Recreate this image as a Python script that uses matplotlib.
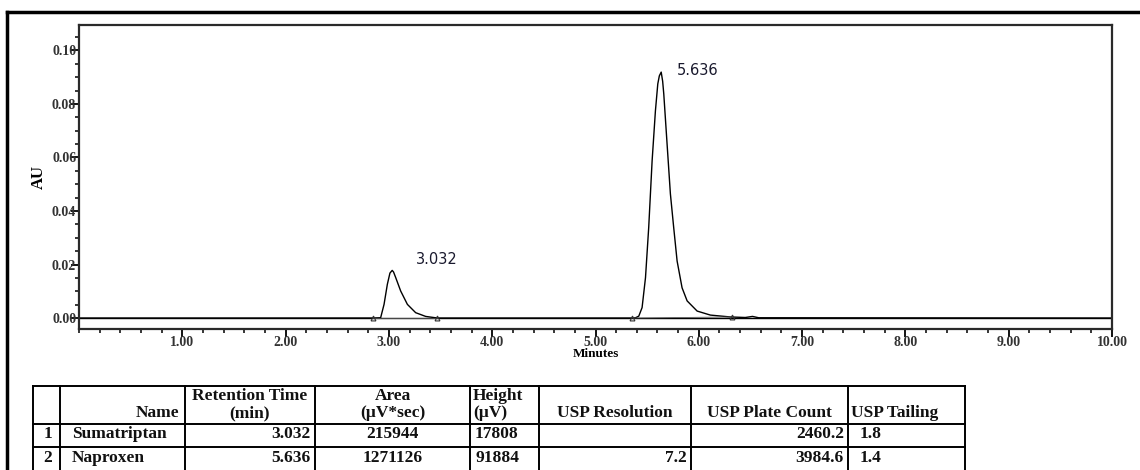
import matplotlib.pyplot as plt
from matplotlib.lines import Line2D
from matplotlib.ticker import MultipleLocator

# chromatogram trace (minutes, AU)
time_min = [0.0, 2.85, 2.92, 2.953, 2.985, 3.01, 3.032, 3.045, 3.066, 3.114, 3.179, 3.259, 3.356, 3.47,
            5.36, 5.387, 5.419, 5.451, 5.484, 5.515, 5.548, 5.58, 5.603, 5.618, 5.636, 5.65, 5.661,
            5.693, 5.725, 5.757, 5.79, 5.838, 5.887, 5.984, 6.112, 6.306, 6.45, 6.52, 6.58, 10.0]
au = [0.0, 0.0, 0.0001, 0.0051, 0.0126, 0.0168, 0.0178, 0.0172, 0.0151, 0.0101, 0.0051, 0.0020, 0.0006, 0.0,
      0.0, 0.0001, 0.0007, 0.0039, 0.0151, 0.0338, 0.0587, 0.0774, 0.0875, 0.0905, 0.0919, 0.0885, 0.0837,
      0.0650, 0.0464, 0.0338, 0.0213, 0.0113, 0.0064, 0.0026, 0.0011, 0.0004, 0.0002, 0.0006, 0.0001, 0.0]

peak_rt = [3.032, 5.636]
peak_h = [0.0178, 0.0919]
peak_start = [2.85, 5.358]
peak_end = [3.47, 6.325]
peak_end_level = [0.0, 0.0004]

# results table
col_names = ['', 'Name', 'Retention Time\n(min)', 'Area\n(µV*sec)', 'Height\n(µV)',
             'USP Resolution', 'USP Plate Count', 'USP Tailing']
row_ids = ['1', '2']
names = ['Sumatriptan', 'Naproxen']
ret_time = ['3.032', '5.636']
area = ['215944', '1271126']
height = ['17808', '91884']
resolution = ['', '7.2']
plate_count = ['2460.2', '3984.6']
tailing = ['1.8', '1.4']

W, H = 1140, 470
fig = plt.figure(figsize=(W / 100, H / 100), dpi=100)
serif = ['Liberation Serif', 'DejaVu Serif']

ax = fig.add_axes([79 / W, 1 - 329 / H, (1112 - 79) / W, (329 - 25) / H])
ax.plot(time_min, au, color='black', lw=1.0)
# integration baselines and peak marks
for s, e, lv in zip(peak_start, peak_end, peak_end_level):
    ax.plot([s, e], [0, lv], color='#555555', lw=0.6)
    ax.plot([s, e], [0, lv], ls='none', marker='^', ms=3.5, mfc='none', mec='#333333', mew=0.8)
ax.axhline(0, color='black', lw=1.0, zorder=0)

ax.annotate(f'{peak_rt[0]:.3f}', (peak_rt[0], peak_h[0]), xytext=(17, 8), textcoords='offset points',
            fontsize=10.5, color='#1a1a2e', va='center')
ax.annotate(f'{peak_rt[1]:.3f}', (peak_rt[1], peak_h[1]), xytext=(11, 1.5), textcoords='offset points',
            fontsize=10.5, color='#1a1a2e', va='center')

ax.set_xlim(0, 10)
ax.set_ylim(-0.0041, 0.1095)
ax.xaxis.set_major_locator(MultipleLocator(1))
ax.xaxis.set_minor_locator(MultipleLocator(0.2))
ax.yaxis.set_major_locator(MultipleLocator(0.02))
ax.yaxis.set_minor_locator(MultipleLocator(0.005))
ax.set_xticks(range(1, 11))
ax.set_xticklabels([f'{v:.2f}' for v in range(1, 11)], family=serif, weight='bold', fontsize=10, color='#333333')
ax.set_yticks([0, 0.02, 0.04, 0.06, 0.08, 0.10])
ax.set_yticklabels([f'{v:.2f}' for v in [0, 0.02, 0.04, 0.06, 0.08, 0.10]], family=serif, weight='bold',
                   fontsize=10, color='#333333')
ax.tick_params(which='major', direction='out', length=6, width=1.3)
ax.tick_params(which='minor', direction='out', length=3, width=1.1)
ax.tick_params(axis='x', pad=-1)
ax.tick_params(axis='y', pad=-4)
for sp in ax.spines.values():
    sp.set_linewidth(1.6)
    sp.set_color('#2a2a2a')
ax.set_xlabel('Minutes', family=serif, weight='bold', fontsize=9.5, labelpad=-1)
ax.set_ylabel('AU', family=serif, weight='bold', fontsize=12, labelpad=4)

# outer frame of the page
fig.add_artist(Line2D([7 / W, 7 / W], [0, 1 - 12 / H], color='black', lw=2.5))
fig.add_artist(Line2D([7 / W, 1], [1 - 12 / H, 1 - 12 / H], color='black', lw=2.5))

# table drawn in pixel coordinates
tab = fig.add_axes([0, 0, 1, 1])
tab.set_xlim(0, W)
tab.set_ylim(H, 0)
tab.axis('off')
col_x = [33, 60, 185, 315, 470, 539, 691, 848, 965]
row_y = [386, 424, 447, 472]
for x in col_x:
    tab.plot([x, x], [row_y[0], H + 5], color='black', lw=1.4)
for y in row_y[:-1]:
    tab.plot([col_x[0], col_x[-1]], [y, y], color='black', lw=1.4)

fs = 12.5
tkw = dict(family=serif, weight='bold', fontsize=fs, color='#111111', va='center')
header_align = ['center', 'right', 'center', 'center', 'left', 'center', 'center', 'left']
for i, (txt, ha) in enumerate(zip(col_names, header_align)):
    l, r = col_x[i], col_x[i + 1]
    lines = txt.split('\n')
    if len(lines) == 1:
        lines = ['', lines[0]]
    x = {'center': (l + r) / 2, 'left': l + 3, 'right': r - 6}[ha]
    tab.text(x, 396, lines[0], ha=ha, **tkw)
    tab.text(x, 413, lines[1], ha=ha, **tkw)

cols = [row_ids, names, ret_time, area, height, resolution, plate_count, tailing]
cell_align = ['right', 'left', 'right', 'center', 'left', 'right', 'right', 'left']
for j in range(len(row_ids)):
    yc = (row_y[j + 1] + row_y[j + 2]) / 2 - 1
    for i, (vals, ha) in enumerate(zip(cols, cell_align)):
        l, r = col_x[i], col_x[i + 1]
        x = {'left': l + 12, 'right': r - 4, 'center': (l + r) / 2}[ha]
        if i == 0:
            x = r - 8
        if i == 4:
            x = l + 5
        tab.text(x, yc, vals[j], ha=ha, **tkw)

fig.savefig('out.png', dpi=100)
